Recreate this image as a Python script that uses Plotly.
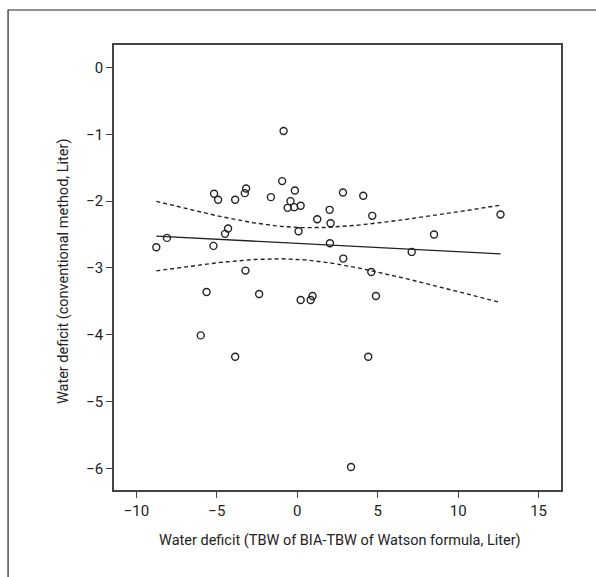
import numpy as np
import plotly.graph_objects as go

# Data
x_bia = [-0.85, -0.94, -5.17, -4.92, -3.86, -3.18, -3.26, -1.64, -0.15, -0.42,
         -0.60, -0.19, 0.21, 0.08, -4.30, -4.49, -8.10, -8.76, -5.21, -3.22,
         -5.64, -2.37, 0.21, 2.84, 4.10, 2.01, 1.24, 2.07, 4.66, 12.63,
         8.50, 2.03, 7.11, 2.86, 4.60, 0.83, 0.95, 4.89, -6.00, -3.86,
         4.41, 3.34]
y_conv = [-0.95, -1.70, -1.89, -1.98, -1.98, -1.81, -1.88, -1.94, -1.84, -2.00,
          -2.10, -2.09, -2.07, -2.45, -2.41, -2.49, -2.55, -2.69, -2.67, -3.04,
          -3.36, -3.39, -3.48, -1.87, -1.92, -2.13, -2.27, -2.33, -2.22, -2.20,
          -2.50, -2.63, -2.76, -2.86, -3.06, -3.48, -3.42, -3.42, -4.01, -4.33,
          -4.33, -5.98]
x_ticks = [-10, -5, 0, 5, 10, 15]
y_ticks = [0, -1, -2, -3, -4, -5, -6]
x_title = "Water deficit (TBW of BIA-TBW of Watson formula, Liter)"
y_title = "Water deficit (conventional method, Liter)"

# Linear regression with 90% confidence band for the mean
xa = np.array(x_bia)
ya = np.array(y_conv)
n = len(xa)
b, a = np.polyfit(xa, ya, 1)
resid = ya - (a + b * xa)
s = np.sqrt(np.sum(resid ** 2) / (n - 2))
sxx = np.sum((xa - xa.mean()) ** 2)
t = 1.684
xf = np.linspace(xa.min(), xa.max(), 200)
yf = a + b * xf
se = s * np.sqrt(1.0 / n + (xf - xa.mean()) ** 2 / sxx)
upper = yf + t * se
lower = yf - t * se

FONT = "Roboto, Arial"
ink = "#222222"

fig = go.Figure()
fig.add_trace(go.Scatter(x=xf, y=upper, mode="lines",
                         line=dict(color=ink, width=1.4, dash="4px,3px"),
                         showlegend=False, hoverinfo="skip"))
fig.add_trace(go.Scatter(x=xf, y=lower, mode="lines",
                         line=dict(color=ink, width=1.4, dash="4px,3px"),
                         showlegend=False, hoverinfo="skip"))
fig.add_trace(go.Scatter(x=xf, y=yf, mode="lines",
                         line=dict(color=ink, width=1.4),
                         showlegend=False, hoverinfo="skip"))
fig.add_trace(go.Scatter(x=x_bia, y=y_conv, mode="markers",
                         marker=dict(symbol="circle-open", size=7,
                                     color=ink, line=dict(width=1.4, color=ink)),
                         showlegend=False))

axis_common = dict(showgrid=False, zeroline=False, showline=True,
                   linecolor="#444444", linewidth=1.6, mirror=True,
                   ticks="outside", ticklen=6, tickwidth=1.4, tickcolor="#444444",
                   tickfont=dict(family=FONT, size=15, color=ink))

fig.update_layout(
    width=596, height=577,
    margin=dict(l=114, r=35, t=45, b=87),
    paper_bgcolor="white", plot_bgcolor="white",
    xaxis=dict(range=[-11.39, 16.39], tickvals=x_ticks,
               ticktext=[str(v).replace("-", "\u2212") for v in x_ticks],
               **axis_common),
    yaxis=dict(range=[-6.325, 0.338], tickvals=y_ticks,
               ticktext=[str(v).replace("-", "\u2212") for v in y_ticks],
               **axis_common),
    annotations=[
        dict(text=x_title, xref="paper", yref="paper", x=0.5056, y=-0.1146,
             xanchor="center", yanchor="middle", showarrow=False,
             font=dict(family=FONT, size=14.5, color=ink)),
        dict(text=y_title, xref="paper", yref="paper", x=-0.114, y=0.492,
             xanchor="center", yanchor="middle", showarrow=False, textangle=-90,
             font=dict(family=FONT, size=14.5, color=ink)),
    ],
    shapes=[
        dict(type="rect", xref="paper", yref="paper",
             x0=-0.237, x1=2.0, y0=-2.0, y1=1.0787,
             line=dict(color=ink, width=1.2), layer="below"),
    ],
)

fig.write_html("out.html")
